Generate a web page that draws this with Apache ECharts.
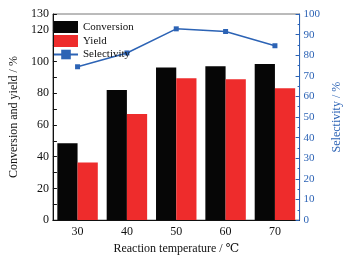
<!DOCTYPE html>
<html>
<head>
<meta charset="utf-8">
<script src="https://cdn.jsdelivr.net/npm/echarts@6/dist/echarts.min.js"></script>
<style>
  html, body { margin: 0; padding: 0; background: #fff; }
  #chart { width: 351px; height: 260px; }
</style>
</head>
<body>
<div id="chart"></div>
<script>
// data
const temperatures = ['30', '40', '50', '60', '70']
const conversion = [48.5, 82, 96.3, 97, 98.5]
const yieldValues = [36.3, 67, 89.4, 88.8, 83.1]
const selectivity = [74.4, 81.1, 92.8, 91.5, 84.6]

const FONT = '"Liberation Serif", "DejaVu Serif", serif'
const BLUE = '#2c63b5'

const chart = echarts.init(document.getElementById('chart'))

const option = {
  animation: false,
  textStyle: { fontFamily: FONT },
  grid: {
    left: 46,
    right: 49,
    top: 14,
    bottom: 38,
    show: true,
    borderColor: '#777',
    borderWidth: 1
  },
  legend: {
    left: 48,
    top: 16,
    orient: 'vertical',
    itemWidth: 24,
    itemHeight: 12,
    itemGap: 2,
    textStyle: { fontFamily: FONT, fontSize: 11, color: '#111' },
    data: [
      { name: 'Conversion', icon: 'rect' },
      { name: 'Yield', icon: 'rect' },
      { name: 'Selectivity' }
    ]
  },
  xAxis: {
    type: 'category',
    data: temperatures,
    name: 'Reaction temperature / ℃',
    nameLocation: 'middle',
    nameGap: 19,
    nameTextStyle: { fontFamily: FONT, fontSize: 12, color: '#111' },
    axisLine: { lineStyle: { color: '#111' } },
    axisTick: { show: false },
    axisLabel: { fontFamily: FONT, fontSize: 12, color: '#111', margin: 6 }
  },
  yAxis: [
    {
      type: 'value',
      min: 0,
      max: 130,
      interval: 10,
      name: 'Conversion and yield / %',
      nameLocation: 'middle',
      nameGap: 28,
      nameTextStyle: { fontFamily: FONT, fontSize: 12, color: '#111' },
      axisLine: { show: true, lineStyle: { color: '#111' } },
      axisTick: { show: true, inside: true, length: 4 },
      minorTick: { show: false },
      splitLine: { show: false },
      axisLabel: {
        fontFamily: FONT,
        fontSize: 12,
        color: '#111',
        margin: 4,
        formatter: v => (v % 20 === 0 || v === 130) ? String(v) : ''
      }
    },
    {
      type: 'value',
      min: 0,
      max: 100,
      interval: 10,
      name: 'Selectivity / %',
      nameLocation: 'middle',
      nameGap: 30,
      nameRotate: 90,
      nameTextStyle: { fontFamily: FONT, fontSize: 12, color: BLUE },
      axisLine: { show: true, lineStyle: { color: BLUE } },
      axisTick: { show: true, inside: true, length: 4, lineStyle: { color: BLUE } },
      minorTick: { show: true, splitNumber: 2, length: 2, lineStyle: { color: BLUE } },
      splitLine: { show: false },
      axisLabel: { fontFamily: FONT, fontSize: 11, color: BLUE, margin: 4 }
    }
  ],
  series: [
    {
      name: 'Conversion',
      type: 'bar',
      data: conversion,
      barGap: '0%',
      barCategoryGap: '18%',
      itemStyle: { color: '#060606' }
    },
    {
      name: 'Yield',
      type: 'bar',
      data: yieldValues,
      itemStyle: { color: '#ee2c2c' }
    },
    {
      name: 'Selectivity',
      type: 'line',
      yAxisIndex: 1,
      data: selectivity,
      symbol: 'rect',
      symbolSize: 5,
      lineStyle: { color: BLUE, width: 1.5 },
      itemStyle: { color: BLUE }
    }
  ]
}

chart.setOption(option)
</script>
</body>
</html>
